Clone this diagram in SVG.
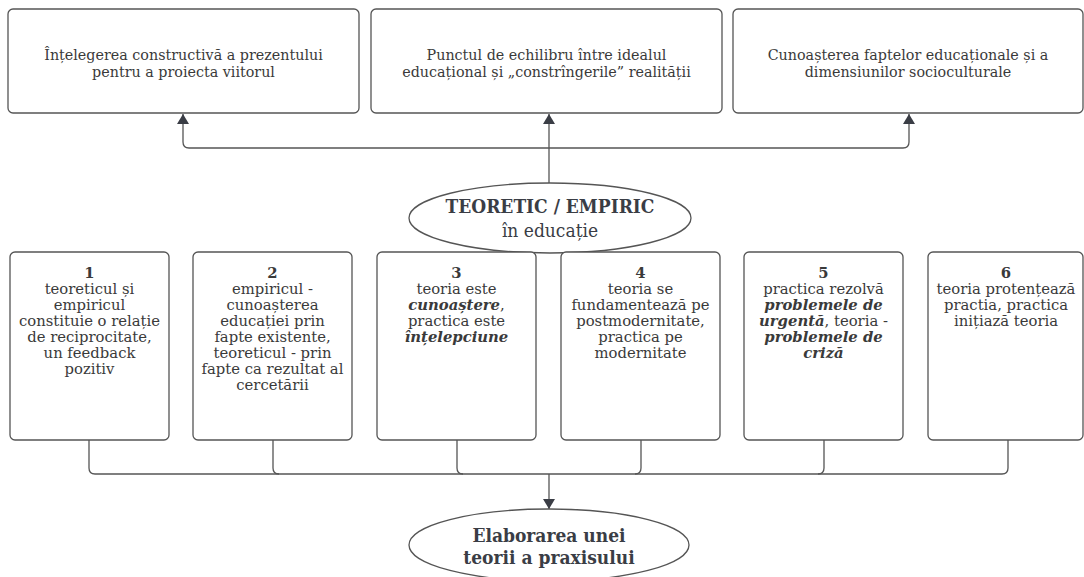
<svg xmlns="http://www.w3.org/2000/svg" width="1084" height="577" viewBox="0 0 1084 577">
<style>
.box{fill:#fff;stroke:#555;stroke-width:1.3}
.ell{fill:#fff;stroke:#555;stroke-width:1.3}
.ln{fill:none;stroke:#555;stroke-width:1.3}
.t{font-family:"DejaVu Serif","Liberation Serif",serif;font-size:14.3px;fill:#3a3a3a;text-anchor:middle}
.s{font-size:14.8px}
.n{font-weight:bold}
.bi{font-weight:bold;font-style:italic}
.h{font-family:"DejaVu Serif Condensed","DejaVu Serif",serif;font-stretch:condensed;font-size:19px;fill:#3a3d45;text-anchor:middle}
</style>
<defs>
<marker id="arr" viewBox="0 0 10 12" refX="10" refY="6" markerWidth="10" markerHeight="12" markerUnits="userSpaceOnUse" orient="auto">
<path d="M0,0 L10,6 L0,12 z" fill="#3a3d45"/>
</marker>
</defs>

<g id="connectors">
<path class="ln" d="M549,183 V148"/>
<path class="ln" d="M549,148 V114" marker-end="url(#arr)"/>
<path class="ln" d="M549,148 H189 Q183,148 183,142 V114" marker-end="url(#arr)"/>
<path class="ln" d="M549,148 H903 Q909,148 909,142 V114" marker-end="url(#arr)"/>
<path class="ln" d="M89,440 V468 Q89,474 95,474 H549"/>
<path class="ln" d="M273,440 V468 Q273,474 279,474"/>
<path class="ln" d="M457,440 V468 Q457,474 463,474"/>
<path class="ln" d="M641,440 V468 Q641,474 635,474"/>
<path class="ln" d="M824,440 V468 Q824,474 818,474"/>
<path class="ln" d="M1008,440 V468 Q1008,474 1002,474 H549"/>
<path class="ln" d="M549,474 V509" marker-end="url(#arr)"/>
</g>

<g id="top1">
<rect class="box" x="8" y="9" width="351" height="104" rx="5"/>
<text class="t" x="183.5" y="60">Înțelegerea constructivă a prezentului</text>
<text class="t" x="183.5" y="77">pentru a proiecta viitorul</text>
</g>
<g id="top2">
<rect class="box" x="371" y="9" width="351" height="104" rx="5"/>
<text class="t" x="546.5" y="60">Punctul de echilibru între idealul</text>
<text class="t" x="546.5" y="77">educațional și „constrîngerile” realității</text>
</g>
<g id="top3">
<rect class="box" x="733" y="9" width="350" height="104" rx="5"/>
<text class="t" x="908" y="60">Cunoașterea faptelor educaționale și a</text>
<text class="t" x="908" y="77">dimensiunilor socioculturale</text>
</g>

<g id="center">
<ellipse class="ell" cx="550" cy="218" rx="141" ry="35"/>
<text class="h" x="550" y="213" font-weight="bold" font-size="18.5">TEORETIC / EMPIRIC</text>
<text class="h" x="550" y="237">în educație</text>
</g>

<g id="b1">
<rect class="box" x="10" y="252" width="159" height="188" rx="5"/>
<text class="t s" x="89.5" y="278"><tspan class="n">1</tspan><tspan x="89.5" dy="16">teoreticul și</tspan><tspan x="89.5" dy="16">empiricul</tspan><tspan x="89.5" dy="16">constituie o relație</tspan><tspan x="89.5" dy="16">de reciprocitate,</tspan><tspan x="89.5" dy="16">un feedback</tspan><tspan x="89.5" dy="16">pozitiv</tspan></text>
</g>
<g id="b2">
<rect class="box" x="193" y="252" width="159" height="188" rx="5"/>
<text class="t s" x="272.5" y="278"><tspan class="n">2</tspan><tspan x="272.5" dy="16">empiricul -</tspan><tspan x="272.5" dy="16">cunoașterea</tspan><tspan x="272.5" dy="16">educației prin</tspan><tspan x="272.5" dy="16">fapte existente,</tspan><tspan x="272.5" dy="16">teoreticul - prin</tspan><tspan x="272.5" dy="16">fapte ca rezultat al</tspan><tspan x="272.5" dy="16">cercetării</tspan></text>
</g>
<g id="b3">
<rect class="box" x="377" y="252" width="159" height="188" rx="5"/>
<text class="t s" x="456.5" y="278"><tspan class="n">3</tspan><tspan x="456.5" dy="16">teoria este</tspan><tspan x="456.5" dy="16"><tspan class="bi">cunoaștere</tspan>,</tspan><tspan x="456.5" dy="16">practica este</tspan><tspan x="456.5" dy="16" class="bi">înțelepciune</tspan></text>
</g>
<g id="b4">
<rect class="box" x="561" y="252" width="159" height="188" rx="5"/>
<text class="t s" x="640.5" y="278"><tspan class="n">4</tspan><tspan x="640.5" dy="16">teoria se</tspan><tspan x="640.5" dy="16">fundamentează pe</tspan><tspan x="640.5" dy="16">postmodernitate,</tspan><tspan x="640.5" dy="16">practica pe</tspan><tspan x="640.5" dy="16">modernitate</tspan></text>
</g>
<g id="b5">
<rect class="box" x="744" y="252" width="159" height="188" rx="5"/>
<text class="t s" x="823.5" y="278"><tspan class="n">5</tspan><tspan x="823.5" dy="16">practica rezolvă</tspan><tspan x="823.5" dy="16" class="bi">problemele de</tspan><tspan x="823.5" dy="16"><tspan class="bi">urgentă</tspan>, teoria -</tspan><tspan x="823.5" dy="16" class="bi">problemele de</tspan><tspan x="823.5" dy="16" class="bi">criză</tspan></text>
</g>
<g id="b6">
<rect class="box" x="928" y="252" width="155" height="188" rx="5"/>
<text class="t s" x="1006" y="278"><tspan class="n">6</tspan><tspan x="1006" dy="16">teoria protențează</tspan><tspan x="1006" dy="16">practia, practica</tspan><tspan x="1006" dy="16">inițiază teoria</tspan></text>
</g>

<g id="bottom">
<ellipse class="ell" cx="549" cy="545" rx="140" ry="36"/>
<text class="h" x="549" y="542" font-weight="bold">Elaborarea unei</text>
<text class="h" x="549" y="564" font-weight="bold">teorii a praxisului</text>
</g>
</svg>
